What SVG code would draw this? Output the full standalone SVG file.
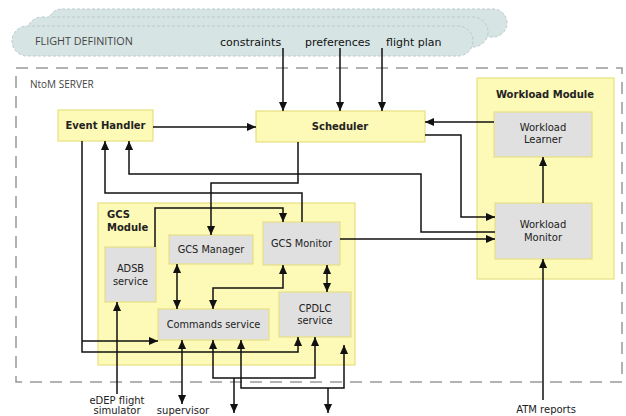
<svg xmlns="http://www.w3.org/2000/svg" width="626" height="416" viewBox="0 0 626 416">
<defs>
<style>
.cloud{fill:#d7e4e4;stroke:#b9caca;stroke-width:1;stroke-dasharray:3 2}
.mod{fill:#fdf9b6;stroke:#e8e07e;stroke-width:1.2}
.box{fill:#e0e0e0;stroke:#e8de84;stroke-width:1.2}
.t{font-family:"DejaVu Sans",Verdana,sans-serif;font-size:10px;fill:#222}
.b{font-family:"DejaVu Sans",Verdana,sans-serif;font-size:10px;font-weight:bold;fill:#222}
.g{font-family:"DejaVu Sans",Verdana,sans-serif;font-size:9.8px;fill:#222}
.lt{font-family:"Open Sans","Noto Sans",sans-serif;font-size:10px;fill:#444}
.ln{font-family:"DejaVu Sans",Verdana,sans-serif;font-size:11px;fill:#111}
.c{fill:none;stroke:#111;stroke-width:1.5}
</style>
<marker id="ah" viewBox="0 0 10 10" refX="10" refY="5" markerWidth="9" markerHeight="9" markerUnits="userSpaceOnUse" orient="auto-start-reverse"><path d="M0,0.5 L10,5 L0,9.5 z" fill="#111"/></marker>
</defs>
<rect width="626" height="416" fill="#fff"/>

<g id="flight-definition">
<rect class="cloud" x="48" y="9" width="459" height="28" rx="14"/>
<rect class="cloud" x="27" y="17" width="461" height="30" rx="15"/>
<rect class="cloud" x="12" y="26" width="461" height="30" rx="15"/>
<text class="lt" x="35" y="45" style="font-size:10.8px">FLIGHT DEFINITION</text>
<text class="ln" x="220" y="46">constraints</text>
<text class="ln" x="305" y="46">preferences</text>
<text class="ln" x="386" y="46">flight plan</text>
</g>

<g id="ntom-server">
<rect x="16" y="68" width="606" height="314" fill="none" stroke="#999" stroke-width="1.5" stroke-dasharray="12 8"/>
<text class="lt" x="30" y="88">NtoM SERVER</text>
</g>

<g id="workload-module">
<rect class="mod" x="477" y="78" width="137" height="201"/>
<text class="b" x="545" y="98" text-anchor="middle">Workload Module</text>
</g>

<g id="gcs-module">
<rect class="mod" x="98" y="203" width="257" height="162"/>
<text class="b" x="107" y="218">GCS</text>
<text class="b" x="107" y="231">Module</text>
</g>

<g id="event-handler">
<rect class="mod" x="58" y="110" width="95" height="31"/>
<text class="b" x="105.5" y="129" text-anchor="middle">Event Handler</text>
</g>

<g id="scheduler">
<rect class="mod" x="256" y="111" width="169" height="31"/>
<text class="b" x="340" y="130" text-anchor="middle">Scheduler</text>
</g>

<g id="workload-learner">
<rect class="box" x="494" y="112" width="98" height="45"/>
<text class="t" x="543" y="131" text-anchor="middle">Workload</text>
<text class="t" x="543" y="143" text-anchor="middle">Learner</text>
</g>

<g id="workload-monitor">
<rect class="box" x="495" y="203" width="97" height="56"/>
<text class="t" x="543" y="228" text-anchor="middle">Workload</text>
<text class="t" x="543" y="241" text-anchor="middle">Monitor</text>
</g>

<g id="adsb-service">
<rect class="box" x="105" y="247" width="51" height="55"/>
<text class="g" x="130.5" y="272" text-anchor="middle">ADSB</text>
<text class="g" x="130.5" y="285" text-anchor="middle">service</text>
</g>

<g id="gcs-manager">
<rect class="box" x="169" y="235" width="84" height="29"/>
<text class="g" x="211" y="253" text-anchor="middle">GCS Manager</text>
</g>

<g id="gcs-monitor">
<rect class="box" x="263" y="222" width="77" height="43"/>
<text class="g" x="301.5" y="247" text-anchor="middle">GCS Monitor</text>
</g>

<g id="commands-service">
<rect class="box" x="158" y="309" width="111" height="31"/>
<text class="g" x="213.5" y="328" text-anchor="middle">Commands service</text>
</g>

<g id="cpdlc-service">
<rect class="box" x="279" y="292" width="72" height="45"/>
<text class="g" x="315" y="312" text-anchor="middle">CPDLC</text>
<text class="g" x="315" y="324" text-anchor="middle">service</text>
</g>

<g id="external-labels">
<text class="t" x="117" y="404" text-anchor="middle">eDEP flight</text>
<text class="t" x="117" y="414" text-anchor="middle">simulator</text>
<text class="t" x="183" y="414" text-anchor="middle">supervisor</text>
<text class="t" x="546" y="413" text-anchor="middle">ATM reports</text>
</g>

<g id="connectors">
<path class="c" d="M283,48 V111" marker-end="url(#ah)"/>
<path class="c" d="M340,48 V111" marker-end="url(#ah)"/>
<path class="c" d="M382,48 V111" marker-end="url(#ah)"/>
<path class="c" d="M153,127 H256" marker-end="url(#ah)"/>
<path class="c" d="M494,122 H425" marker-end="url(#ah)"/>
<path class="c" d="M425,135 H461 V217 H495" marker-end="url(#ah)"/>
<path class="c" d="M495,232 H421 V174 H129 V141" marker-end="url(#ah)"/>
<path class="c" d="M340,239 H495" marker-end="url(#ah)"/>
<path class="c" d="M543,203 V157" marker-end="url(#ah)"/>
<path class="c" d="M543,400 V259" marker-end="url(#ah)"/>
<path class="c" d="M298,142 V183 H211 V235" marker-end="url(#ah)"/>
<path class="c" d="M302,222 V193 H105 V141" marker-end="url(#ah)"/>
<path class="c" d="M155,247 V208 H283 V222" marker-end="url(#ah)"/>
<path class="c" d="M177,264 V309" marker-start="url(#ah)" marker-end="url(#ah)"/>
<path class="c" d="M283,265 V288 H213 V309" marker-start="url(#ah)" marker-end="url(#ah)"/>
<path class="c" d="M327,265 V292" marker-start="url(#ah)" marker-end="url(#ah)"/>
<path class="c" d="M82,141 V352 H298 V337" marker-end="url(#ah)"/>
<path class="c" d="M82,341 H158" marker-end="url(#ah)"/>
<path class="c" d="M117,394 V302" marker-end="url(#ah)"/>
<path class="c" d="M182,340 V404" marker-start="url(#ah)" marker-end="url(#ah)"/>
<path class="c" d="M213,340 V378 H315 V337" marker-start="url(#ah)" marker-end="url(#ah)"/>
<path class="c" d="M234,378 V413" marker-end="url(#ah)"/>
<path class="c" d="M241,340 V388 H344 V345" marker-start="url(#ah)" marker-end="url(#ah)"/>
<path class="c" d="M328,388 V413" marker-end="url(#ah)"/>
</g>
</svg>
